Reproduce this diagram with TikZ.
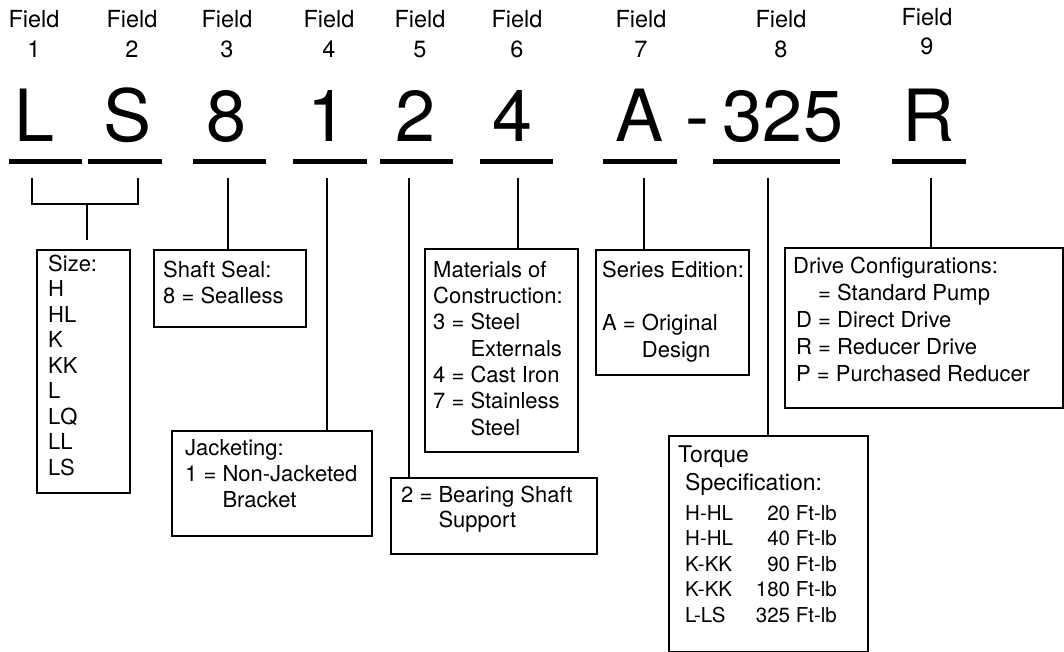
\documentclass[tikz,border=0pt]{standalone}
\usepackage{fontspec}
\setmainfont{TeX Gyre Heros}
\begin{document}
\begin{tikzpicture}[x=1pt,y=-1pt,
  box/.style={draw, line width=1.8pt, inner sep=0, anchor=north west},
  txt/.style={anchor=north west, inner sep=0, align=left},
  conn/.style={line width=1.8pt},
  uline/.style={line width=4.5pt},
  hdr/.style={anchor=north, inner sep=0, align=center, font=\fontsize{23.5}{30}\selectfont},
  big/.style={anchor=base, inner sep=0, font=\fontsize{72}{80}\selectfont}]
\useasboundingbox (0,0) rectangle (1064,652);
\fill[white] (0,0) rectangle (1064,652);

% header labels
\node[hdr] (h1) at (34,9) {\rule{0pt}{18pt}Field\\1};
\node[hdr] (h2) at (132,9) {\rule{0pt}{18pt}Field\\2};
\node[hdr] (h3) at (227,9) {\rule{0pt}{18pt}Field\\3};
\node[hdr] (h4) at (329,9) {\rule{0pt}{18pt}Field\\4};
\node[hdr] (h5) at (420,9) {\rule{0pt}{18pt}Field\\5};
\node[hdr] (h6) at (517,9) {\rule{0pt}{18pt}Field\\6};
\node[hdr] (h7) at (641,9) {\rule{0pt}{18pt}Field\\7};
\node[hdr] (h8) at (781,9) {\rule{0pt}{18pt}Field\\8};
\node[hdr, font=\fontsize{23.5}{29}\selectfont] (h9) at (927,7) {\rule{0pt}{18pt}Field\\9};

% big letters
\node[big] (l1) at (35,142) {L};
\node[big] (l2) at (128,142) {S};
\node[big] (l3) at (227,142) {8};
\node[big] (l4) at (328,142) {1};
\node[big] (l5) at (416,142) {2};
\node[big] (l6) at (513,142) {4};
\node[big] (l7) at (640,142) {A};
\node[big] (ldash) at (697,142) {-};
\node[big] (l8) at (783,142) {325};
\node[big] (l9) at (928,142) {R};

% underlines
\draw[uline] (9,161.5) -- (82,161.5);
\draw[uline] (88,161.5) -- (162,161.5);
\draw[uline] (193,161.5) -- (266,161.5);
\draw[uline] (293,161.5) -- (367,161.5);
\draw[uline] (380,161.5) -- (453,161.5);
\draw[uline] (480,161.5) -- (553,161.5);
\draw[uline] (603,161.5) -- (677,161.5);
\draw[uline] (713,161.5) -- (840,161.5);
\draw[uline] (892,161.5) -- (966,161.5);

% boxes
\node[box, minimum width=93pt, minimum height=243pt] (size) at (36,249) {};
\node[box, minimum width=152pt, minimum height=77pt] (seal) at (153,249) {};
\node[box, minimum width=200pt, minimum height=105pt] (jack) at (171,430) {};
\node[box, minimum width=206pt, minimum height=76pt] (bear) at (390,477) {};
\node[box, minimum width=153pt, minimum height=203pt] (mat) at (424,248) {};
\node[box, minimum width=153pt, minimum height=125pt] (ser) at (595,249) {};
\node[box, minimum width=278pt, minimum height=160pt] (drv) at (784,247) {};
\node[box, minimum width=199pt, minimum height=216pt] (trq) at (668,435) {};

% box texts
\node[txt, font=\fontsize{22}{25.5}\selectfont] (sizet) at (48,254)
  {\rule{0pt}{17pt}Size:\\H\\HL\\K\\KK\\L\\LQ\\LL\\LS};
\node[txt, font=\fontsize{22}{26}\selectfont] (sealt) at (163,260)
  {\rule{0pt}{17pt}Shaft Seal:\\8 = Sealless};
\node[txt, font=\fontsize{22}{26}\selectfont] (jackt) at (185,438)
  {\rule{0pt}{17pt}Jacketing:\\1 = Non-Jacketed\\\phantom{1 = }Bracket};
\node[txt, font=\fontsize{22}{25}\selectfont] (beart) at (401,485)
  {\rule{0pt}{17pt}2 = Bearing Shaft\\\phantom{2 = }Support};
\node[txt, font=\fontsize{22}{26.3}\selectfont] (matt) at (433,260)
  {\rule{0pt}{17pt}Materials of\\Construction:\\3 = Steel\\\phantom{3 = }Externals\\4 = Cast Iron\\7 = Stainless\\\phantom{7 = }Steel};
\node[txt, font=\fontsize{22}{26.7}\selectfont] (sert) at (602,260)
  {\rule{0pt}{17pt}Series Edition:\\\mbox{}\\A = Original\\\phantom{A = }Design};
\node[txt, font=\fontsize{22}{27}\selectfont] (drvt) at (796,256)
  {\rule{0pt}{17pt}\hspace*{-3pt}Drive Configurations:\\\phantom{D} = Standard Pump\\D = Direct Drive\\R = Reducer Drive\\P = Purchased Reducer};
\node[txt, font=\fontsize{23}{28}\selectfont] (trqt) at (678,444.5)
  {\rule{0pt}{17.5pt}Torque\\\hspace*{7pt}Specification:};
\node[txt, font=\fontsize{20.5}{25.5}\selectfont] (trqa) at (685,505)
  {\rule{0pt}{15pt}H-HL\\H-HL\\K-KK\\K-KK\\L-LS};
\node[txt, anchor=north east, align=right, font=\fontsize{20.5}{25.5}\selectfont] (trqb) at (837,505)
  {\rule{0pt}{15pt}20 Ft-lb\\40 Ft-lb\\90 Ft-lb\\180 Ft-lb\\325 Ft-lb};

% connectors
\coordinate (c1) at (32,178);
\coordinate (c2) at (138,178);
\coordinate (b1) at (32,204);
\coordinate (b2) at (138,204);
\coordinate (bm) at (87,204);
\coordinate (bend) at (87,240);
\coordinate (c3) at (228,178);
\coordinate (c4) at (327,178);
\coordinate (c5) at (409,178);
\coordinate (c6) at (518,178);
\coordinate (c7) at (644,178);
\coordinate (c8) at (768,178);
\coordinate (c9) at (931,178);
\draw[conn] (c1) -- (b1) -- (b2) -- (c2);
\draw[conn] (bm) -- (bend);
\draw[conn] (c3) -- (c3 |- seal.north);
\draw[conn] (c4) -- (c4 |- jack.north);
\draw[conn] (c5) -- (c5 |- bear.north);
\draw[conn] (c6) -- (c6 |- mat.north);
\draw[conn] (c7) -- (c7 |- ser.north);
\draw[conn] (c8) -- (c8 |- trq.north);
\draw[conn] (c9) -- (c9 |- drv.north);
\end{tikzpicture}
\end{document}
